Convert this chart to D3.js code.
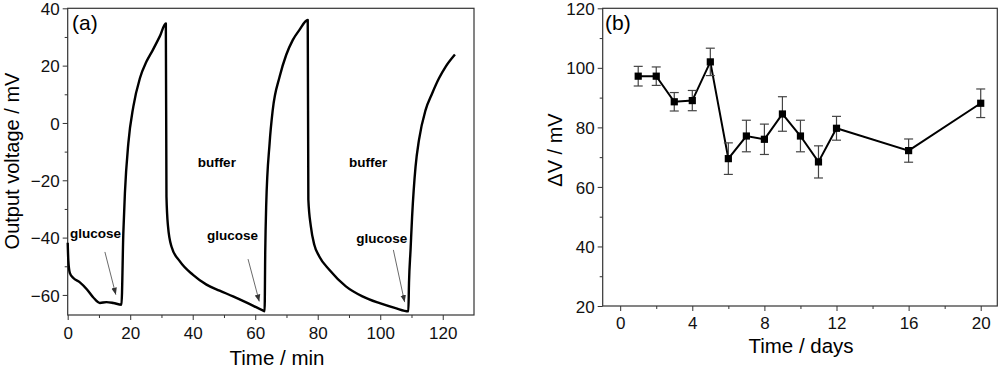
<!DOCTYPE html>
<html>
<head>
<meta charset="utf-8">
<script src="https://cdn.jsdelivr.net/npm/d3@7"></script>
<style>
    body { margin: 0; background: #fff; }
    svg { display: block; font-family: "Liberation Sans", Arial, sans-serif; }
    .tick text { font-size: 17px; fill: #111; }
</style>
</head>
<body>
<div id="chart"></div>
<script>
// panel (a): output voltage trace
const timeMin = [0, 0.2, 0.7, 1.8, 3.9, 6.1, 8.2, 10.3, 12.4, 14.6, 17.2, 17.8, 18.3, 19.4, 21, 23.1, 25.2, 27.3, 29.5, 31.4,
    31.6, 32.1, 33.2, 35.9, 40.1, 44.4, 48.6, 52.9, 57.1, 62.4, 63, 63.2, 63.5, 64.6, 65.6, 67.8, 69.9, 72, 74.1, 76.8,
    77, 77.8, 78.9, 80.5, 83.7, 89, 94.3, 99.6, 104.9, 109, 109.2, 109.7, 110.2, 111.3, 112.4, 114.5, 116.6, 118.8, 120.9, 123.9];
const voltage = [-41.8, -48, -52.4, -54.1, -55.6, -58, -60.9, -62.8, -62.5, -62.8, -63.4, -38.4, -24.5, -7.1, 5.7, 15.6, 21.4, 25.6, 30.3, 34.7,
    -25.7, -36.1, -43.1, -48.3, -53, -56.4, -58.5, -60.5, -62.6, -65.4, -65.7, -45.4, -29.2, -7.1, 4.5, 16.1, 23.7, 28.9, 32.4, 35.9,
    -26.8, -36.1, -42.5, -46.6, -51.2, -57, -60.5, -62.8, -64.6, -65.7, -55.9, -44.3, -32.6, -15.2, -5.9, 4.5, 10.3, 15.6, 19.6, 23.9];
const ticksA_x = [0, 20, 40, 60, 80, 100, 120];
const ticksA_y = [-60, -40, -20, 0, 20, 40];
const glucoseLabels = [[8.9, -38.3], [52.7, -39.3], [100.5, -40.3]];
const bufferLabels = [[47.7, -13.8], [96.1, -13.7]];
const arrowsA = [[11.9, -45.0, 15.4, -59.9], [57.7, -47.5, 61.3, -62.3], [104.2, -44.3, 107.8, -62.5]];

// panel (b): response over days
const days = [1, 2, 3, 4, 5, 6, 7, 8, 9, 10, 11, 12, 16, 20];
const deltaV = [97.2, 97.2, 88.6, 89.0, 102.0, 69.5, 77.1, 76.0, 84.5, 77.1, 68.4, 79.7, 72.2, 88.1];
const deltaErr = [3.3, 3.1, 3.1, 3.4, 4.6, 5.3, 5.3, 5.1, 5.8, 5.3, 5.4, 4.0, 3.9, 4.8];
const ticksB_x = [0, 4, 8, 12, 16, 20];
const ticksB_y = [20, 40, 60, 80, 100, 120];

const width = 1000, height = 369;

const svg = d3.select("#chart").append("svg")
    .attr("width", width)
    .attr("height", height);

svg.append("defs").append("marker")
    .attr("id", "arrow")
    .attr("viewBox", "0 0 10 10")
    .attr("refX", 10).attr("refY", 5)
    .attr("markerWidth", 7).attr("markerHeight", 7)
    .attr("markerUnits", "userSpaceOnUse")
    .attr("orient", "auto")
    .append("path")
    .attr("d", "M0,1 L10,5 L0,9 Z")
    .attr("fill", "#333");

function drawFrame(x, y, xTicks, yTicks, xMinor, yMinor, labelShift) {
    const [x0, x1] = x.range();
    const [y0, y1] = y.range();

    svg.append("g")
        .attr("transform", `translate(0, ${y0})`)
        .call(d3.axisBottom(x).tickValues(xMinor).tickSize(3).tickFormat(""))
        .call(g => g.select(".domain").remove())
        .selectAll("line").attr("stroke", "#333");
    svg.append("g")
        .attr("transform", `translate(${x0}, 0)`)
        .call(d3.axisLeft(y).tickValues(yMinor).tickSize(3).tickFormat(""))
        .call(g => g.select(".domain").remove())
        .selectAll("line").attr("stroke", "#333");

    const gx = svg.append("g")
        .attr("transform", `translate(0, ${y0})`)
        .call(d3.axisBottom(x).tickValues(xTicks).tickSize(5).tickPadding(labelShift).tickFormat(d3.format("d")));
    gx.select(".domain").remove();
    gx.selectAll("line").attr("stroke", "#333");

    const gy = svg.append("g")
        .attr("transform", `translate(${x0}, 0)`)
        .call(d3.axisLeft(y).tickValues(yTicks).tickSize(5).tickPadding(3).tickFormat(d3.format("d")));
    gy.select(".domain").remove();
    gy.selectAll("line").attr("stroke", "#333");
    gy.selectAll("text").attr("dy", "0.36em");

    svg.append("rect")
        .attr("x", x0).attr("y", y1)
        .attr("width", x1 - x0).attr("height", y0 - y1)
        .attr("fill", "none")
        .attr("stroke", "#333")
        .attr("stroke-width", 1.2);
}

function renderPanelA() {
    const x = d3.scaleLinear().domain([0, 130]).range([67.7, 474]);
    const y = d3.scaleLinear().domain([-67, 40]).range([315, 8.3]);

    drawFrame(x, y, ticksA_x, ticksA_y, d3.range(10, 130, 20), d3.range(-50, 40, 20), 7);

    const line = d3.line()
        .x(d => x(d[0]))
        .y(d => y(d[1]))
        .curve(d3.curveMonotoneX);

    svg.append("path")
        .datum(timeMin.map((t, i) => [t, voltage[i]]))
        .attr("d", line)
        .attr("fill", "none")
        .attr("stroke", "#000")
        .attr("stroke-width", 2.4)
        .attr("stroke-linejoin", "round");

    svg.selectAll(".arrowA")
        .data(arrowsA)
        .enter().append("line")
        .attr("class", "arrowA")
        .attr("x1", d => x(d[0])).attr("y1", d => y(d[1]))
        .attr("x2", d => x(d[2])).attr("y2", d => y(d[3]))
        .attr("stroke", "#444")
        .attr("stroke-width", 0.8)
        .attr("marker-end", "url(#arrow)");

    svg.selectAll(".glucose")
        .data(glucoseLabels)
        .enter().append("text")
        .attr("class", "glucose")
        .attr("x", d => x(d[0])).attr("y", d => y(d[1]))
        .attr("dy", "0.36em")
        .attr("text-anchor", "middle")
        .attr("font-size", 13.5)
        .attr("font-weight", "bold")
        .text("glucose");

    svg.selectAll(".buffer")
        .data(bufferLabels)
        .enter().append("text")
        .attr("class", "buffer")
        .attr("x", d => x(d[0])).attr("y", d => y(d[1]))
        .attr("dy", "0.36em")
        .attr("text-anchor", "middle")
        .attr("font-size", 13.5)
        .attr("font-weight", "bold")
        .text("buffer");

    svg.append("text")
        .attr("x", 72).attr("y", 30)
        .attr("font-size", 21)
        .text("(a)");

    svg.append("text")
        .attr("transform", "translate(18.5, 161) rotate(-90)")
        .attr("text-anchor", "middle")
        .attr("font-size", 20)
        .text("Output voltage / mV");

    svg.append("text")
        .attr("x", 277).attr("y", 365)
        .attr("text-anchor", "middle")
        .attr("font-size", 20.5)
        .text("Time / min");
}

function renderPanelB() {
    const x = d3.scaleLinear().domain([-0.97, 20.92]).range([602.7, 997.3]);
    const y = d3.scaleLinear().domain([20, 120]).range([306, 8.3]);

    drawFrame(x, y, ticksB_x, ticksB_y, d3.range(2, 21, 4), d3.range(30, 120, 20), 6);

    const pts = days.map((d, i) => ({day: d, v: deltaV[i], e: deltaErr[i]}));

    svg.append("path")
        .datum(pts)
        .attr("d", d3.line().x(d => x(d.day)).y(d => y(d.v)))
        .attr("fill", "none")
        .attr("stroke", "#000")
        .attr("stroke-width", 2);

    const bars = svg.append("g")
        .attr("stroke", "#444")
        .attr("stroke-width", 1.2);
    pts.forEach(d => {
        bars.append("line")
            .attr("x1", x(d.day)).attr("x2", x(d.day))
            .attr("y1", y(d.v + d.e)).attr("y2", y(d.v - d.e));
        [d.v + d.e, d.v - d.e].forEach(c => {
            bars.append("line")
                .attr("x1", x(d.day) - 4.5).attr("x2", x(d.day) + 4.5)
                .attr("y1", y(c)).attr("y2", y(c));
        });
    });

    svg.selectAll(".pt")
        .data(pts)
        .enter().append("rect")
        .attr("class", "pt")
        .attr("x", d => x(d.day) - 3.6)
        .attr("y", d => y(d.v) - 3.6)
        .attr("width", 7.2).attr("height", 7.2)
        .attr("fill", "#000");

    svg.append("text")
        .attr("x", 605).attr("y", 30)
        .attr("font-size", 21)
        .text("(b)");

    svg.append("text")
        .attr("transform", "translate(562, 150) rotate(-90)")
        .attr("text-anchor", "middle")
        .attr("font-size", 20)
        .text("ΔV / mV");

    svg.append("text")
        .attr("x", 801).attr("y", 352.5)
        .attr("text-anchor", "middle")
        .attr("font-size", 20.5)
        .text("Time / days");
}

renderPanelA();
renderPanelB();
</script>
</body>
</html>
